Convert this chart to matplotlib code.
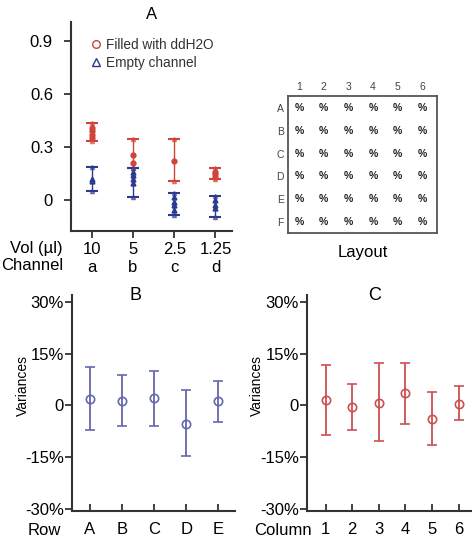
import matplotlib
matplotlib.use("Agg")
import matplotlib.pyplot as plt

plt.rcParams['font.family'] = ['Liberation Sans', 'DejaVu Sans']

# ---------------- data ----------------
# Panel A: four channels, two conditions
vol_labels = ['10', '5', '2.5', '1.25']
channel_labels = ['a', 'b', 'c', 'd']
filled_lo = [0.337, 0.18, 0.11, 0.12]
filled_hi = [0.436, 0.345, 0.347, 0.184]
filled_pts = [[0.35, 0.37, 0.39, 0.41], [0.21, 0.256], [0.223], [0.13, 0.145, 0.16]]
empty_lo = [0.053, 0.019, -0.085, -0.097]
empty_hi = [0.19, 0.18, 0.041, 0.023]
empty_pts = [[0.105, 0.12], [0.096, 0.12, 0.14, 0.16], [-0.057, -0.03, -0.01, 0.017], [-0.046, -0.03, 0.0]]

# Panel B: variance per row (%)
rows = ['A', 'B', 'C', 'D', 'E']
row_mean = [1.9, 1.4, 2.1, -5.3, 1.2]
row_lo = [-7.0, -6.1, -5.9, -14.7, -4.9]
row_hi = [11.1, 8.9, 10.1, 4.5, 7.2]

# Panel C: variance per column (%)
cols = ['1', '2', '3', '4', '5', '6']
col_mean = [1.6, -0.5, 0.8, 3.5, -4.0, 0.5]
col_lo = [-8.5, -7.2, -10.3, -5.3, -11.5, -4.3]
col_hi = [11.7, 6.3, 12.2, 12.4, 3.8, 5.5]

# layout grid
grid_cols = ['1', '2', '3', '4', '5', '6']
grid_rows = ['A', 'B', 'C', 'D', 'E', 'F']

RED = '#d0443a'
NAVY = '#2b3a8f'
BLUE_B = '#6368ad'
RED_C = '#cc5050'
AX_COL = '#333333'

W, H = 472, 548
fig = plt.figure(figsize=(W / 100, H / 100), dpi=100)


def px_axes(x0, y0, x1, y1):
    # pixel box (top-left origin) -> figure axes
    return fig.add_axes([x0 / W, 1 - y1 / H, (x1 - x0) / W, (y1 - y0) / H])


def style(ax):
    for s in ['top', 'right']:
        ax.spines[s].set_visible(False)
    for s in ['left', 'bottom']:
        ax.spines[s].set_linewidth(1.5)
        ax.spines[s].set_color(AX_COL)


# ---------------- Panel A ----------------
axA = px_axes(71, 22, 232, 231)
style(axA)
xA = list(range(1, 5))
for i, x in enumerate(xA):
    mid = (filled_lo[i] + filled_hi[i]) / 2
    axA.errorbar(x, mid, yerr=[[mid - filled_lo[i]], [filled_hi[i] - mid]], fmt='none',
                 ecolor=RED, elinewidth=1.0, capsize=4, capthick=1.5)
    axA.plot([x] * len(filled_pts[i]), filled_pts[i], 'o', color=RED, ms=3.5)
    mid = (empty_lo[i] + empty_hi[i]) / 2
    axA.errorbar(x, mid, yerr=[[mid - empty_lo[i]], [empty_hi[i] - mid]], fmt='none',
                 ecolor=NAVY, elinewidth=1.0, capsize=4, capthick=1.5)
    axA.plot([x] * len(empty_pts[i]), empty_pts[i], '^', color=NAVY, ms=3.5)
    axA.plot([x, x], [filled_lo[i], filled_hi[i]], '^', color=RED, ms=3, alpha=0.6)
    axA.plot([x, x], [empty_lo[i], empty_hi[i]], '^', color=NAVY, ms=3, alpha=0.6)

axA.set_xlim(0.5, 4.4)
axA.set_ylim(-0.176, 1.01)
axA.set_yticks([0, 0.3, 0.6, 0.9])
axA.set_yticklabels(['0', '0.3', '0.6', '0.9'])
axA.set_xticks(xA)
axA.set_xticklabels([v + '\n' + c for v, c in zip(vol_labels, channel_labels)], linespacing=1.2)
axA.tick_params(axis='both', direction='out', length=5, width=1.3, color=AX_COL, labelsize=12, pad=3)
axA.tick_params(axis='y', pad=8)
axA.set_title('A', fontsize=12, pad=2)
axA.plot([], [], 'o', mfc='none', mec=RED, ms=5.5, label='Filled with ddH2O')
axA.plot([], [], '^', mfc='none', mec=NAVY, ms=5.5, label='Empty channel')
leg = axA.legend(loc='upper left', bbox_to_anchor=(0.08, 0.95), frameon=False, fontsize=9.8,
                 handletextpad=0.2, handlelength=1.0, borderaxespad=0, labelspacing=0.3)
for t in leg.get_texts():
    t.set_color('#333333')
fig.text(63 / W, 1 - 257 / H, 'Vol (\u00b5l)\nChannel', ha='right', va='center',
         fontsize=12, linespacing=1.2, multialignment='right')

# ---------------- Layout ----------------
axL = px_axes(288, 96, 437, 233)
for s in axL.spines.values():
    s.set_linewidth(1.3)
    s.set_color('#555555')
axL.set_xlim(0.55, 6.6)
axL.set_ylim(6.48, 0.47)
for r in range(len(grid_rows)):
    for c in range(len(grid_cols)):
        axL.text(c + 1, r + 1, '%', ha='center', va='center', fontsize=7.5, fontweight='bold', color='#222222')
axL.xaxis.tick_top()
axL.set_xticks(range(1, 7))
axL.set_xticklabels(grid_cols)
axL.set_yticks(range(1, 7))
axL.set_yticklabels(grid_rows)
axL.tick_params(length=0, labelsize=7.5, pad=3, colors='#444444')
axL.set_xlabel('Layout', fontsize=12, labelpad=9)


# ---------------- Panels B and C ----------------
def variance_panel(ax, labels, mean, lo, hi, color, name, title_x, cat_label, cat_x):
    style(ax)
    xs = list(range(1, len(labels) + 1))
    err = [[m - l for m, l in zip(mean, lo)], [h - m for m, h in zip(mean, hi)]]
    ax.errorbar(xs, mean, yerr=err, fmt='o', mfc='none', mec=color, ms=6, mew=1.2,
                ecolor=color, elinewidth=1.3, capsize=3.8, capthick=1.3)
    ax.set_ylim(-30.6, 32)
    ax.set_yticks([-30, -15, 0, 15, 30])
    ax.set_yticklabels(['-30%', '-15%', '0', '15%', '30%'])
    ax.set_xticks(xs)
    ax.set_xticklabels(labels)
    ax.tick_params(axis='y', direction='out', length=5, width=1.3, color=AX_COL, labelsize=12, pad=1)
    ax.tick_params(axis='x', direction='in', length=5, width=1.3, color=AX_COL, labelsize=12, pad=8)
    ax.set_ylabel('Variances', fontsize=10, labelpad=2)
    ax.yaxis.set_label_coords(-0.26, 0.58)
    # panel letter sits right on the top edge of the axes
    ax.text(title_x, 1.0, name, transform=ax.transAxes, ha='center', va='center', fontsize=13)
    ax.text(cat_x, -0.09, cat_label, transform=ax.transAxes, ha='right', va='center', fontsize=12)


axB = px_axes(72, 295, 235, 511)
axB.set_xlim(0.44, 5.52)
variance_panel(axB, rows, row_mean, row_lo, row_hi, BLUE_B, 'B', 0.39, 'Row', -0.07)
axC = px_axes(307, 295, 472, 511)
axC.set_xlim(0.3, 6.5)
variance_panel(axC, cols, col_mean, col_lo, col_hi, RED_C, 'C', 0.41, 'Column', 0.03)

fig.savefig('out.png', dpi=100)
